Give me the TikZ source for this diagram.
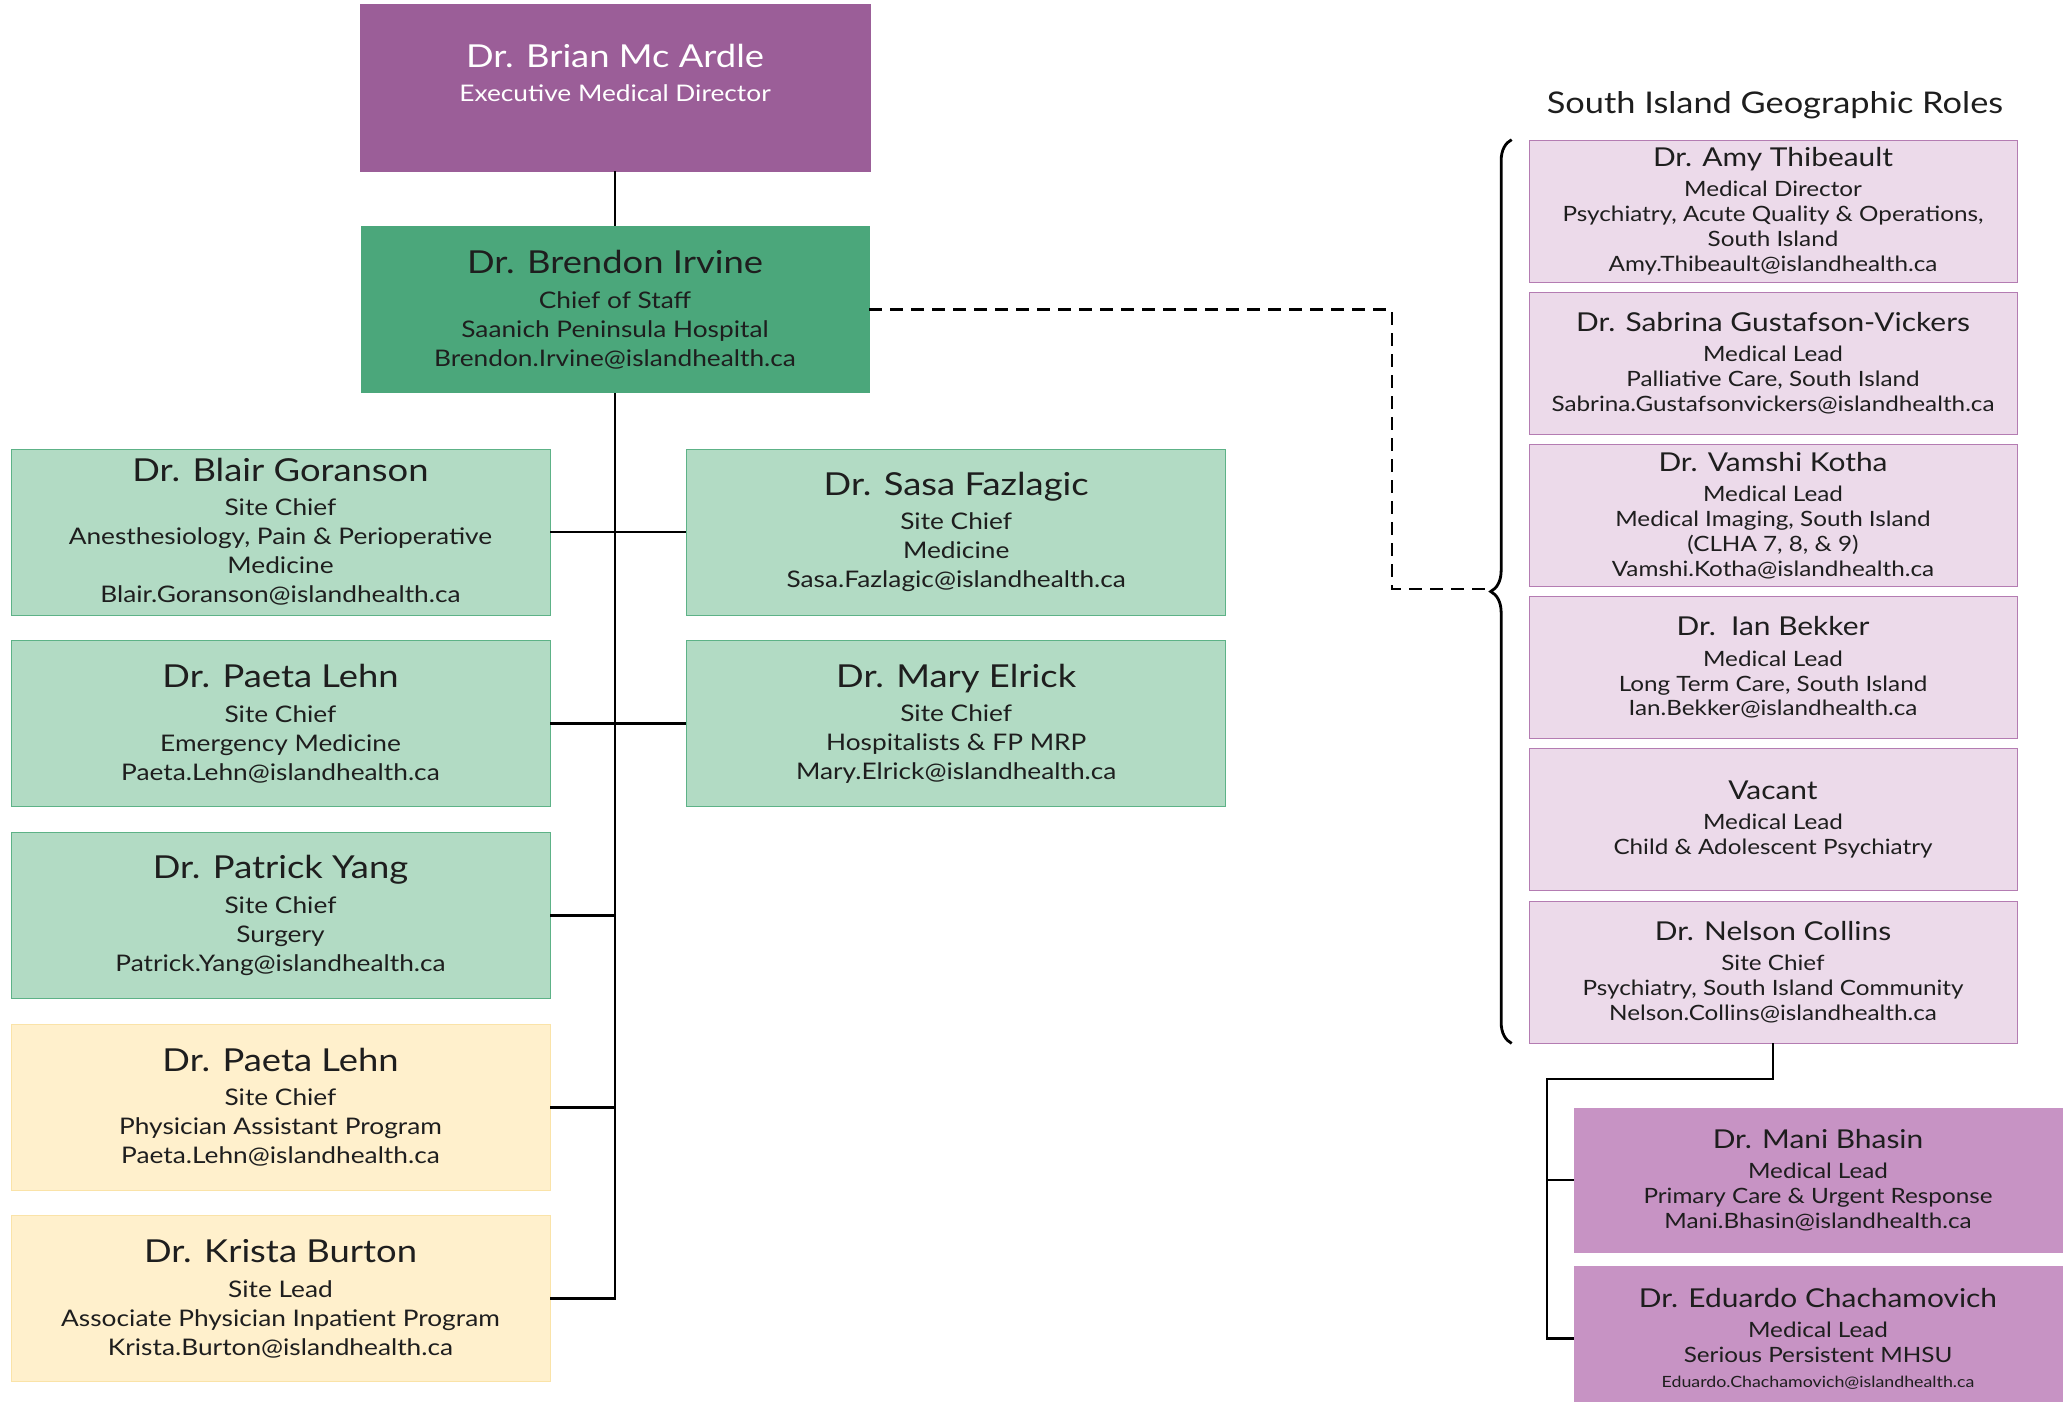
\documentclass[tikz,border=0pt]{standalone}
\usepackage{fontspec}
\setmainfont{Lato}[FakeStretch=1.15]
\usetikzlibrary{positioning,decorations.pathreplacing}

\definecolor{execpurple}{HTML}{9B5E98}
\definecolor{chiefgreen}{HTML}{4BA77B}
\definecolor{sitegreen}{HTML}{B2DBC4}
\definecolor{siteedge}{HTML}{5DB287}
\definecolor{paleyellow}{HTML}{FFF0CC}
\definecolor{yellowedge}{HTML}{FAE3A8}
\definecolor{palepink}{HTML}{ECDAEA}
\definecolor{pinkedge}{HTML}{B47CB2}
\definecolor{midpink}{HTML}{C793C4}
\definecolor{inkgray}{HTML}{1E1E1E}

\newcommand{\docname}[1]{{\fontsize{18}{21}\selectfont #1}\\[3pt]}
\newcommand{\geoname}[1]{{\fontsize{14.8}{18}\selectfont #1}\\[3pt]}

\tikzstyle{block} = [rectangle, draw, align=center, text=inkgray, font=\fontsize{13}{16.5}\selectfont, minimum width=10.78cm, minimum height=3.32cm, inner sep=0pt]
\tikzstyle{execbox} = [block, fill=execpurple, draw=execpurple, text=white, minimum width=10.2cm, minimum height=3.34cm]
\tikzstyle{chiefbox} = [block, fill=chiefgreen, draw=chiefgreen, minimum width=10.16cm]
\tikzstyle{sitebox} = [block, fill=sitegreen, draw=siteedge]
\tikzstyle{apbox} = [block, fill=paleyellow, draw=yellowedge]
\tikzstyle{geobox} = [block, fill=palepink, draw=pinkedge, font=\fontsize{12}{14.2}\selectfont, minimum width=9.76cm, minimum height=2.84cm]
\tikzstyle{leadbox} = [geobox, fill=midpink, draw=midpink, minimum height=2.88cm]
\tikzstyle{link} = [draw, line width=1.6pt]

\begin{document}
\begin{tikzpicture}
\useasboundingbox (0,0) rectangle (41.4,-28.04);

% executive and chief of staff
\node [execbox] (brian) at (12.3,-1.75) {\docname{Dr. Brian Mc Ardle}Executive Medical Director\\ \mbox{}};
\node [chiefbox] (brendon) [below=1.1cm of brian] {\docname{Dr. Brendon Irvine}Chief of Staff\\Saanich Peninsula Hospital\\Brendon.Irvine@islandhealth.ca};

% site chiefs
\node [sitebox] (blair) at (5.61,-10.64) {\docname{Dr. Blair Goranson}Site Chief\\Anesthesiology, Pain \& Perioperative\\Medicine\\Blair.Goranson@islandhealth.ca};
\node [sitebox] (sasa) [right=2.72cm of blair] {\docname{Dr. Sasa Fazlagic}Site Chief\\Medicine\\Sasa.Fazlagic@islandhealth.ca};
\node [sitebox] (paeta) [below=0.5cm of blair] {\docname{Dr. Paeta Lehn}Site Chief\\Emergency Medicine\\Paeta.Lehn@islandhealth.ca};
\node [sitebox] (mary) [below=0.5cm of sasa] {\docname{Dr. Mary Elrick}Site Chief\\Hospitalists \& FP MRP\\Mary.Elrick@islandhealth.ca};
\node [sitebox] (patrick) [below=0.5cm of paeta] {\docname{Dr. Patrick Yang}Site Chief\\Surgery\\Patrick.Yang@islandhealth.ca};
\node [apbox] (assist) [below=0.5cm of patrick] {\docname{Dr. Paeta Lehn}Site Chief\\Physician Assistant Program\\Paeta.Lehn@islandhealth.ca};
\node [apbox] (krista) [below=0.5cm of assist] {\docname{Dr. Krista Burton}Site Lead\\Associate Physician Inpatient Program\\Krista.Burton@islandhealth.ca};

% south island roles
\node [font=\fontsize{17}{20}\selectfont, text=inkgray] (geotitle) at (35.5,-2.1) {South Island Geographic Roles};
\node [geobox] (amy) at (35.46,-4.22) {\geoname{Dr. Amy Thibeault}Medical Director\\Psychiatry, Acute Quality \& Operations,\\South Island\\Amy.Thibeault@islandhealth.ca};
\node [geobox] (sabrina) [below=0.19cm of amy] {\geoname{Dr. Sabrina Gustafson-Vickers}Medical Lead\\Palliative Care, South Island\\Sabrina.Gustafsonvickers@islandhealth.ca};
\node [geobox] (vamshi) [below=0.19cm of sabrina] {\geoname{Dr. Vamshi Kotha}Medical Lead\\Medical Imaging, South Island\\(CLHA 7, 8, \& 9)\\Vamshi.Kotha@islandhealth.ca};
\node [geobox] (ian) [below=0.19cm of vamshi] {\geoname{Dr.\ \ Ian Bekker}Medical Lead\\Long Term Care, South Island\\Ian.Bekker@islandhealth.ca};
\node [geobox] (vacant) [below=0.19cm of ian] {\geoname{Vacant}Medical Lead\\Child \& Adolescent Psychiatry};
\node [geobox] (nelson) [below=0.19cm of vacant] {\geoname{Dr. Nelson Collins}Site Chief\\Psychiatry, South Island Community\\Nelson.Collins@islandhealth.ca};
\node [leadbox] (mani) at (36.36,-23.6) {\geoname{Dr. Mani Bhasin}Medical Lead\\Primary Care \& Urgent Response\\Mani.Bhasin@islandhealth.ca};
\node [leadbox] (eduardo) [below=0.28cm of mani] {\geoname{Dr. Eduardo Chachamovich}Medical Lead\\Serious Persistent MHSU\\{\fontsize{8.8}{12}\selectfont Eduardo.Chachamovich@islandhealth.ca}};

\coordinate (dashbend) at (27.84,-11.78);
\coordinate (bracetip) at (29.82,-11.78);
\coordinate (subtrunk) at (30.94,-21.58);

% connectors
\draw [link] (brian) -- (brendon);
\draw [link] (brendon.south) |- (krista.east);
\draw [link] (blair) -- (sasa);
\draw [link] (paeta) -- (mary);
\draw [link] (patrick.east) -- (patrick.east -| brendon.south);
\draw [link] (assist.east) -- (assist.east -| brendon.south);
\draw [link, dash pattern=on 0.26cm off 0.16cm] (brendon.east) -| (dashbend) -- (bracetip);
\draw [link, decorate, decoration={brace, amplitude=0.42cm}] ([xshift=-0.34cm]nelson.south west) -- ([xshift=-0.34cm]amy.north west);
\draw [link] (nelson.south) |- (subtrunk) |- (eduardo.west);
\draw [link] (mani.west) -| (subtrunk);
\end{tikzpicture}
\end{document}
